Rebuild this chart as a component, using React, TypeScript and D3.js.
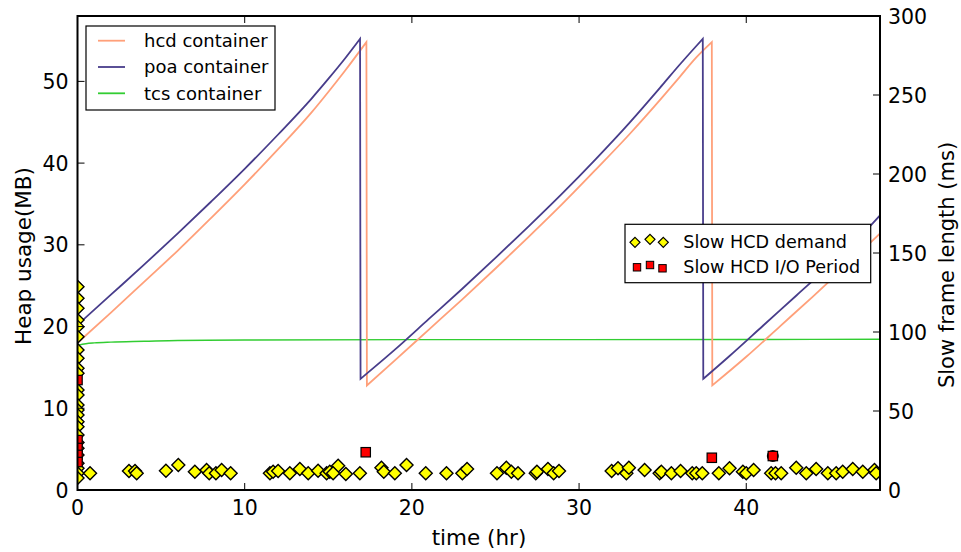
import React from 'react';
import * as d3 from 'd3';

const W = 961;
const H = 552;

// ---- data ----
const xTicks = [0, 10, 20, 30, 40];
const yLeftTicks = [0, 10, 20, 30, 40, 50];
const yRightTicks = [0, 50, 100, 150, 200, 250, 300];

const poaSeries: [number, number][] = [
  [0, 20.2], [2, 23.9], [4, 27.6], [6, 31.4], [8, 35.3], [10, 39.3], [12, 43.5], [14, 47.9], [15, 50.3], [16, 52.8], [16.9, 55.2],
  [16.93, 13.6], [19, 17.2], [21, 20.9], [23, 24.6], [25, 28.4], [27, 32.3], [29, 36.3], [31, 40.5], [33, 44.9], [35, 49.6], [36, 52.0], [37, 54.3], [37.4, 55.2],
  [37.43, 13.6], [39, 16.4], [41, 20.1], [43, 23.8], [45, 27.5], [47, 31.4], [48, 33.6],
];

const hcdSeries: [number, number][] = [
  [0, 18.0], [2, 21.7], [4, 25.5], [6, 29.3], [8, 33.3], [10, 37.4], [12, 41.7], [14, 46.2], [15, 48.7], [16, 51.3], [17.28, 54.8],
  [17.31, 12.8], [19, 15.9], [21, 19.6], [23, 23.3], [25, 27.1], [27, 31.0], [29, 35.0], [31, 39.2], [33, 43.5], [35, 48.1], [36, 50.5], [37, 52.9], [37.94, 54.8],
  [37.97, 12.8], [40, 16.3], [42, 20.0], [44, 23.7], [46, 27.5], [48, 31.4],
];

const tcsSeries: [number, number][] = [
  [0, 17.7], [0.5, 17.9], [1, 18.0], [2, 18.1], [4, 18.2], [6, 18.3], [10, 18.35], [20, 18.4], [30, 18.4], [40, 18.42], [48, 18.45],
];

const demandPoints: [number, number][] = [
  [0, 128.7], [0, 121.3], [0, 115.0], [0, 107.6], [0, 103.4], [0, 97.0], [0, 88.6], [0, 83.4], [0, 77.0], [0, 73.9],
  [0, 63.3], [0, 60.1], [0, 53.8], [0, 50.6], [0, 47.5], [0, 43.2], [0, 40.1], [0, 34.8], [0, 30.0], [0, 26.4],
  [0, 22.2], [0, 17.0], [0, 13.7], [0, 10.6], [0, 7.6],
  [0.75, 10.6], [3.08, 12.0], [3.44, 12.0], [3.54, 10.6], [5.29, 12.2], [6.03, 15.8], [7.02, 11.6], [7.72, 12.7],
  [7.88, 10.6], [8.28, 10.6], [8.62, 12.7], [9.16, 10.6], [11.51, 10.6], [11.7, 11.6], [12.0, 12.0], [12.7, 10.6],
  [13.3, 13.3], [13.8, 10.6], [14.39, 12.2], [14.9, 10.6], [15.09, 11.6], [15.59, 15.4], [15.29, 10.6], [16.05, 10.1],
  [16.89, 10.6], [18.18, 14.1], [18.32, 11.6], [18.98, 10.6], [19.68, 15.8], [20.83, 10.6], [22.07, 10.6], [23.02, 10.6],
  [23.3, 13.3], [25.09, 10.6], [25.65, 14.1], [25.95, 11.6], [26.35, 10.6], [27.41, 10.6], [27.48, 11.6], [28.14, 13.3],
  [28.48, 10.6], [28.8, 12.0], [31.95, 12.0], [32.33, 13.7], [32.83, 10.6], [32.98, 14.1], [33.92, 12.7], [34.82, 10.6],
  [34.92, 11.6], [35.52, 10.6], [36.07, 12.0], [36.77, 10.6], [37.01, 10.6], [37.37, 10.6], [38.36, 10.6], [39.0, 13.7],
  [39.8, 11.6], [40.0, 10.6], [40.44, 12.7], [41.49, 10.6], [41.75, 10.6], [42.09, 10.6], [42.99, 14.1], [43.59, 10.6],
  [44.18, 13.3], [44.88, 10.6], [45.38, 10.6], [45.77, 11.6], [46.37, 13.3], [46.97, 11.6], [47.67, 12.7], [47.77, 10.6],
];

const ioPoints: [number, number][] = [
  [0, 69.6], [0, 31.6], [0, 26.6], [0, 22.2], [0, 17.7],
  [17.24, 23.9], [37.94, 20.4], [41.59, 21.5],
];

const ioOverlapPoints: [number, number][] = [[41.59, 21.5]];

const lineLegend = ['hcd container', 'poa container', 'tcs container'];
const scatterLegend = ['Slow HCD demand', 'Slow HCD I/O Period'];

// ---- styles ----
const COLORS = { hcd: '#FFA07A', poa: '#483D8B', tcs: '#32CD32' };
const FONT = 'DejaVu Sans, sans-serif';
const PL = 77.5, PR = 880, PT = 16, PB = 490;
const diamond = (r: number) => `M0,${-r}L${r},0L0,${r}L${-r},0Z`;

// split a sawtooth series into rising segments (drops are drawn as straight lines)
function splitCycles(s: [number, number][]) {
  const segs: [number, number][][] = [[s[0]]];
  for (let i = 1; i < s.length; i++) {
    if (s[i][1] < s[i - 1][1] - 5) segs.push([s[i]]);
    else segs[segs.length - 1].push(s[i]);
  }
  return segs;
}

export default function App() {
  const x = d3.scaleLinear().domain([0, 48]).range([PL, PR]);
  const yL = d3.scaleLinear().domain([0, 58]).range([PB, PT]);
  const yR = d3.scaleLinear().domain([0, 300]).range([PB, PT]);
  const smooth = d3.line<[number, number]>().x(d => x(d[0])).y(d => yL(d[1])).curve(d3.curveMonotoneX);

  const sawPath = (s: [number, number][]) => {
    const segs = splitCycles(s);
    let d = '';
    segs.forEach((seg, i) => {
      const p = smooth(seg) || '';
      if (i === 0) d += p;
      else d += 'L' + p.slice(1);
    });
    return d;
  };

  const lineColors = [COLORS.hcd, COLORS.poa, COLORS.tcs];

  return (
    <svg width={W} height={H} style={{ position: 'absolute', left: 0, top: 0, background: '#fff' }} fontFamily={FONT}>
      <defs>
        <clipPath id="plot">
          <rect x={PL} y={PT} width={PR - PL} height={PB - PT} />
        </clipPath>
      </defs>
      <rect x={0} y={0} width={W} height={H} fill="#fff" />
      <g clipPath="url(#plot)">
        <path d={smooth(tcsSeries) || ''} fill="none" stroke={COLORS.tcs} strokeWidth={1.4} />
        <path d={sawPath(hcdSeries)} fill="none" stroke={COLORS.hcd} strokeWidth={1.8} />
        <path d={sawPath(poaSeries)} fill="none" stroke={COLORS.poa} strokeWidth={1.8} />
        {demandPoints.map((d, i) => (
          <path key={'d' + i} d={diamond(6.5)} transform={`translate(${x(d[0])},${yR(d[1])})`} fill="#FFFF00" stroke="#000" strokeWidth={1.4} />
        ))}
        {ioOverlapPoints.map((d, i) => (
          <circle key={'o' + i} cx={x(d[0])} cy={yR(d[1])} r={6} fill="#000" />
        ))}
        {ioPoints.map((d, i) => (
          <rect key={'s' + i} x={x(d[0]) - 4.7} y={yR(d[1]) - 4.7} width={9.4} height={9.4} fill="#FF0000" stroke="#000" strokeWidth={1.2} />
        ))}
      </g>

      {/* frame */}
      <rect x={PL} y={PT} width={PR - PL} height={PB - PT} fill="none" stroke="#000" strokeWidth={2} />

      {/* x ticks */}
      {xTicks.map(t => (
        <g key={'x' + t}>
          <line x1={x(t)} x2={x(t)} y1={PB} y2={PB - 7} stroke="#000" strokeWidth={1} />
          <line x1={x(t)} x2={x(t)} y1={PT} y2={PT + 7} stroke="#000" strokeWidth={1} />
          <text x={x(t)} y={PB + 25} textAnchor="middle" fontSize={20.5} fill="#000">{t}</text>
        </g>
      ))}
      {/* left ticks */}
      {yLeftTicks.map(t => (
        <g key={'yl' + t}>
          <line x1={PL} x2={PL + 7} y1={yL(t)} y2={yL(t)} stroke="#000" strokeWidth={1} />
          <text x={PL - 9} y={yL(t) + 7.5} textAnchor="end" fontSize={20.5} fill="#000">{t}</text>
        </g>
      ))}
      {/* right ticks */}
      {yRightTicks.map(t => (
        <g key={'yr' + t}>
          <line x1={PR} x2={PR - 7} y1={yR(t)} y2={yR(t)} stroke="#000" strokeWidth={1} />
          <text x={PR + 8} y={yR(t) + 7.5} textAnchor="start" fontSize={20.5} fill="#000">{t}</text>
        </g>
      ))}

      {/* axis labels */}
      <text x={479} y={545} textAnchor="middle" fontSize={21.5} fill="#000">time (hr)</text>
      <text transform={`translate(31,${(PT + PB) / 2 + 3}) rotate(-90)`} textAnchor="middle" fontSize={21.5} fill="#000">Heap usage(MB)</text>
      <text transform={`translate(954,${(PT + PB) / 2 + 12}) rotate(-90)`} textAnchor="middle" fontSize={21} fill="#000">Slow frame length (ms)</text>

      {/* line legend */}
      <g>
        <rect x={86} y={26} width={189} height={84} fill="#fff" stroke="#000" strokeWidth={1.2} />
        {lineLegend.map((name, i) => (
          <g key={name}>
            <line x1={98} x2={125} y1={40.7 + i * 26.3} y2={40.7 + i * 26.3} stroke={lineColors[i]} strokeWidth={1.8} />
            <text x={144} y={40.7 + i * 26.3 + 6.3} fontSize={18} fill="#000">{name}</text>
          </g>
        ))}
      </g>

      {/* scatter legend */}
      <g>
        <rect x={625} y={224.3} width={245.7} height={58.4} fill="#fff" stroke="#000" strokeWidth={1.2} />
        {[[635, 242.3], [650, 239.3], [663.3, 242.3]].map((p, i) => (
          <path key={'ld' + i} d={diamond(5)} transform={`translate(${p[0]},${p[1]})`} fill="#FFFF00" stroke="#000" strokeWidth={1.2} />
        ))}
        {[[637, 267.3], [650, 265], [662.5, 268.3]].map((p, i) => (
          <rect key={'ls' + i} x={p[0] - 3.7} y={p[1] - 3.7} width={7.4} height={7.4} fill="#FF0000" stroke="#000" strokeWidth={1} />
        ))}
        {scatterLegend.map((name, i) => (
          <text key={name} x={683.3} y={241.7 + i * 25 + 6.3} fontSize={17.6} fill="#000">{name}</text>
        ))}
      </g>
    </svg>
  );
}
